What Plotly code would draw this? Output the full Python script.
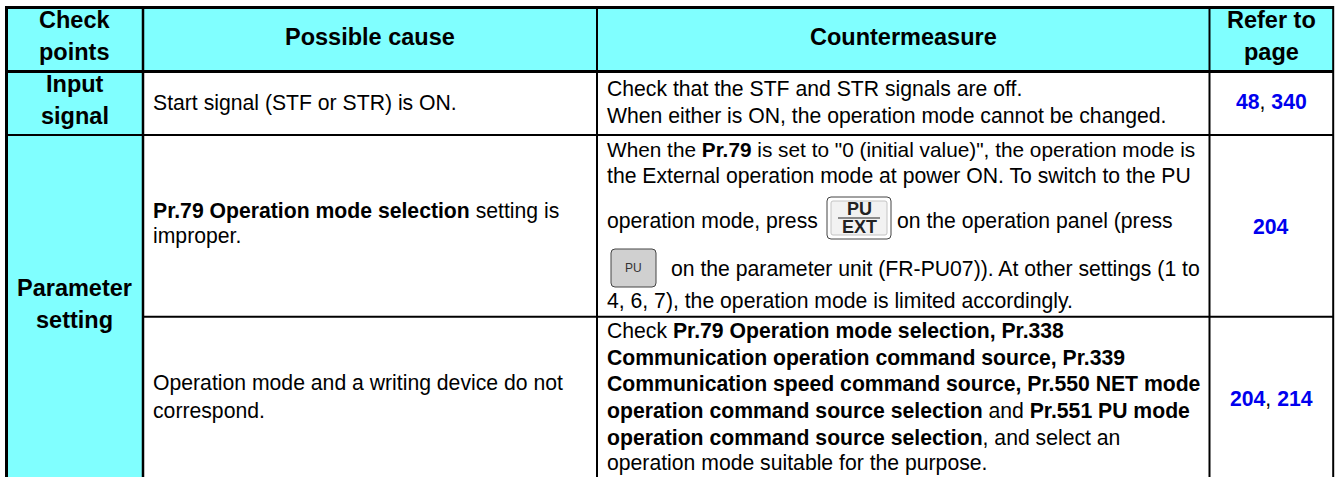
import plotly.graph_objects as go

# ---- table content ----
header_cells = [
    ["Check", "points"],
    ["Possible cause"],
    ["Countermeasure"],
    ["Refer to", "page"],
]
group_labels = [["Input", "signal"], ["Parameter", "setting"]]
cause_lines = [
    ["Start signal (STF or STR) is ON."],
    ["<b>Pr.79 Operation mode selection</b> setting is", "improper."],
    ["Operation mode and a writing device do not", "correspond."],
]
measure_lines = [
    ["Check that the STF and STR signals are off.",
     "When either is ON, the operation mode cannot be changed."],
    ['When the <b>Pr.79</b> is set to "0 (initial value)", the operation mode is',
     "the External operation mode at power ON. To switch to the PU",
     "operation mode, press",
     "4, 6, 7), the operation mode is limited accordingly."],
    ["Check <b>Pr.79 Operation mode selection, Pr.338</b>",
     "<b>Communication operation command source, Pr.339</b>",
     "<b>Communication speed command source, Pr.550 NET mode</b>",
     "<b>operation command source selection</b> and <b>Pr.551 PU mode</b>",
     "<b>operation command source selection</b>, and select an",
     "operation mode suitable for the purpose."],
]
after_key_text = ["on the operation panel (press", "on the parameter unit (FR-PU07)). At other settings (1 to"]
page_refs = [["48", "340"], ["204"], ["204", "214"]]

# ---- layout (pixel frame of the picture) ----
W, H = 1337, 477
FONT = "Liberation Sans"
CYAN = "#80FFFF"
LINK = "#0000EE"
BODY = 21.2
HEAD = 23.5
col_edges = [6.5, 143, 597, 1209.5, 1333.2]
row_edges = [7.5, 71.5, 135, 316.7, 480]

shapes, annos = [], []

def rect(x0, y0, x1, y1, fill=None, line=None, width=0):
    shapes.append(dict(type="rect", xref="x", yref="y", x0=x0, y0=y0, x1=x1, y1=y1,
                       fillcolor=fill or "rgba(0,0,0,0)",
                       line=dict(color=line or "rgba(0,0,0,0)", width=width),
                       layer="above" if line else "below"))

def rounded(x0, y0, x1, y1, r, fill, line, width=1):
    p = (f"M{x0+r},{y0} L{x1-r},{y0} Q{x1},{y0} {x1},{y0+r} L{x1},{y1-r} Q{x1},{y1} {x1-r},{y1} "
         f"L{x0+r},{y1} Q{x0},{y1} {x0},{y1-r} L{x0},{y0+r} Q{x0},{y0} {x0+r},{y0} Z")
    shapes.append(dict(type="path", xref="x", yref="y", path=p, fillcolor=fill,
                       line=dict(color=line, width=width), layer="above"))

def seg(x0, y0, x1, y1, w, color="black"):
    shapes.append(dict(type="line", xref="x", yref="y", x0=x0, y0=y0, x1=x1, y1=y1,
                       line=dict(color=color, width=w), layer="above"))

def text(x, y, s, size=BODY, anchor="left", color="black"):
    annos.append(dict(xref="x", yref="y", x=x, y=y, text=s, showarrow=False,
                      xanchor=anchor, yanchor="middle", align=anchor,
                      font=dict(family=FONT, size=size, color=color)))

# fills
rect(col_edges[0], row_edges[0], col_edges[4], row_edges[1], CYAN)
rect(col_edges[0], row_edges[1], col_edges[1], row_edges[4], CYAN)

# grid
seg(col_edges[0], 6, col_edges[0], H, 3)
seg(col_edges[1], 6, col_edges[1], H, 2.5)
seg(col_edges[2], 6, col_edges[2], H, 2)
seg(col_edges[3], 6, col_edges[3], H, 2)
seg(col_edges[4], 6, col_edges[4], H, 2)
seg(5, row_edges[0], 1334, row_edges[0], 3)
seg(5, row_edges[1], 1334, row_edges[1], 3)
seg(5, row_edges[2], 1334, row_edges[2], 2)
seg(142, row_edges[3], 1334, row_edges[3], 2)

# header text
cx = [(col_edges[i] + col_edges[i + 1]) / 2 for i in range(4)]
hdr_y = {1: [37], 2: [20, 52]}
for c, lines in zip(cx, header_cells):
    for y, s in zip(hdr_y[len(lines)], lines):
        text(c, y, "<b>%s</b>" % s, HEAD, "center")

# group labels
for y, s in zip([84, 116], group_labels[0]):
    text(cx[0], y, "<b>%s</b>" % s, HEAD, "center")
for y, s in zip([288, 320], group_labels[1]):
    text(cx[0], y, "<b>%s</b>" % s, HEAD, "center")

# causes
for ys, lines in zip([[103], [211, 236], [383, 411]], cause_lines):
    for y, s in zip(ys, lines):
        text(151, y, s)

# measures
m_y = [[89, 116], [149, 176, 221, 301], [331, 358, 384, 411, 438, 463]]
for ys, lines in zip(m_y, measure_lines):
    for y, s in zip(ys, lines):
        text(605, y, s)
annos[-10]["font"]["size"] = 20.8   # first line of the middle block runs narrower in the reference
text(895, 221, after_key_text[0])
text(669, 269, after_key_text[1])

# key caps
rounded(827, 197, 891, 239, 4, "white", "#444", 1)
rounded(831, 201, 887, 235, 2, "#f2f2f2", "#c4c4c4", 1)
seg(838, 218, 880, 218, 1, "#222")
text(859, 209, "<b>PU</b>", 18, "center", "#222")
text(859, 227, "<b>EXT</b>", 18, "center", "#222")
rounded(611, 249, 656, 287, 4, "#d0d0d0", "#444", 1)
text(633.5, 268, "PU", 12, "center", "#333")

# page refs
for y, refs in zip([101, 226, 398], page_refs):
    s = ", ".join('<b><span style="color:%s">%s</span></b>' % (LINK, r) for r in refs)
    text(cx[3], y, s, BODY, "center")

fig = go.Figure()
fig.update_layout(width=W, height=H, margin=dict(l=0, r=0, t=0, b=0),
                  paper_bgcolor="white", plot_bgcolor="white",
                  xaxis=dict(range=[0, W], visible=False, fixedrange=True),
                  yaxis=dict(range=[H, 0], visible=False, fixedrange=True),
                  shapes=shapes, annotations=annos, showlegend=False)
fig.write_html("out.html", config=dict(displayModeBar=False),
               post_script="document.body.style.margin='0';document.body.style.overflow='hidden';")
